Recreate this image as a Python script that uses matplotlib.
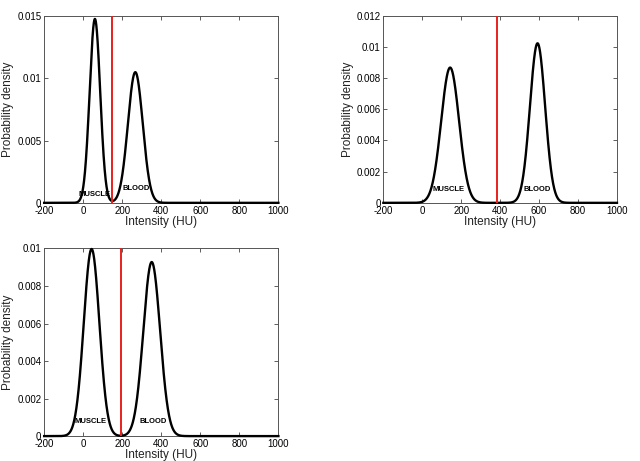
import numpy as np
import matplotlib
matplotlib.use("Agg")
from matplotlib import pyplot as plt
from matplotlib.ticker import FormatStrFormatter

plt.rcParams['font.family'] = ['Liberation Sans', 'DejaVu Sans']
plt.rcParams['axes.unicode_minus'] = False

# Gaussian parameters (mean, std in HU) for each panel
muscle_mean = [60, 143, 43]
muscle_std = [27, 46, 40]
blood_mean = [267, 592, 351]
blood_std = [38, 39, 43]
threshold = [145, 385, 192]
y_max = [0.015, 0.012, 0.01]
y_step = [0.005, 0.002, 0.002]
label_y = [[0.0004, 0.00088], [0.00064, 0.00064], [0.0006, 0.0006]]
muscle_label_x = [56, 137, 39]
blood_label_x = [272, 588, 358]

# axes rectangles in figure fractions
positions = [
    [0.069, 0.560, 0.366, 0.405],
    [0.599, 0.560, 0.365, 0.406],
    [0.069, 0.054, 0.366, 0.407],
]


def pdf(x, mu, sd):
    return np.exp(-0.5 * ((x - mu) / sd) ** 2) / (sd * np.sqrt(2 * np.pi))


def main():
    fig = plt.figure(figsize=(6.4, 4.61), dpi=100)
    x = np.linspace(-200, 1000, 2401)

    for i, pos in enumerate(positions):
        ax = fig.add_axes(pos)
        y = pdf(x, muscle_mean[i], muscle_std[i]) + pdf(x, blood_mean[i], blood_std[i])
        ax.plot(x, y, color='black', lw=1.7, clip_on=False, zorder=3)
        ax.axvline(threshold[i], color='#e8201c', lw=1.4, zorder=4)

        ax.text(muscle_label_x[i], label_y[i][0], 'MUSCLE', fontsize=5.5,
                fontweight='bold', ha='center', va='bottom', zorder=5)
        ax.text(blood_label_x[i], label_y[i][1], 'BLOOD', fontsize=5.5,
                fontweight='bold', ha='center', va='bottom', zorder=5)

        ax.set_xlim(-200, 1000)
        ax.set_ylim(0, y_max[i])
        ax.set_xticks(np.arange(-200, 1001, 200))
        ax.set_yticks(np.arange(0, y_max[i] + 1e-9, y_step[i]))
        ax.yaxis.set_major_formatter(FormatStrFormatter('%g'))
        ax.tick_params(direction='in', top=True, right=True, length=3,
                       width=0.6, labelsize=7, pad=2, color='#444444')
        for sp in ax.spines.values():
            sp.set_color('#555555')
            sp.set_linewidth(0.7)
        ax.set_xlabel('Intensity (HU)', fontsize=8.5, labelpad=0, color='#222222')
        ax.set_ylabel('Probability density', fontsize=8.5, labelpad=2, color='#222222')

    fig.savefig('out.png', dpi=100)


if __name__ == "__main__":
    main()
